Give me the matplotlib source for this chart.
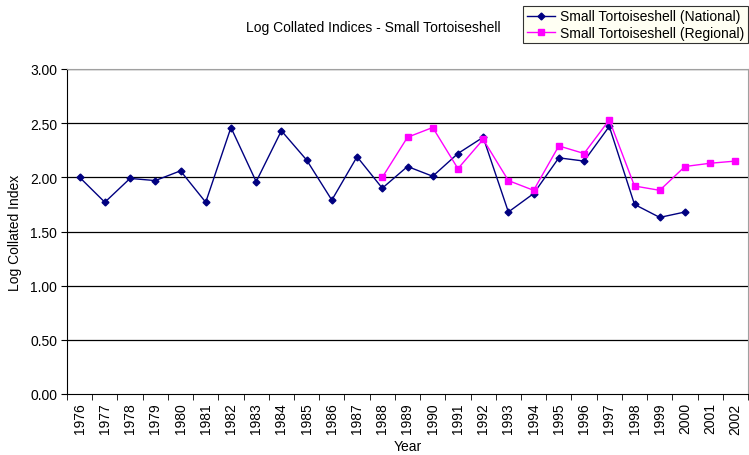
import matplotlib
matplotlib.use("Agg")
import matplotlib.pyplot as plt
import numpy as np

plt.rcParams['font.family'] = ['Liberation Sans', 'DejaVu Sans']

years = [str(y) for y in range(1976, 2003)]
national = [2.00, 1.77, 1.99, 1.97, 2.06, 1.77, 2.46, 1.96, 2.43, 2.16, 1.79, 2.19, 1.90,
            2.10, 2.01, 2.22, 2.37, 1.68, 1.85, 2.18, 2.15, 2.47, 1.75, 1.63, 1.68]
regional_years = [str(y) for y in range(1988, 2003)]
regional = [2.00, 2.37, 2.46, 2.08, 2.35, 1.97, 1.88, 2.29, 2.22, 2.53, 1.92, 1.88, 2.10, 2.13, 2.15]
yticks = [0.0, 0.5, 1.0, 1.5, 2.0, 2.5, 3.0]

fig = plt.figure(figsize=(7.49, 4.56), dpi=100)
ax = fig.add_axes([67/749, 61/456, 681/749, 325/456])

xn = np.arange(len(national))
xr = np.array([years.index(y) for y in regional_years])

ax.plot(xn, national, color='#000080', marker='D', markersize=3.5, linewidth=1,
        label='Small Tortoiseshell (National)')
ax.plot(xr, regional, color='#FF00FF', marker='s', markersize=4.5, linewidth=1,
        label='Small Tortoiseshell (Regional)')

ax.set_xlim(-0.5, len(years) - 0.5)
ax.set_ylim(0, 3)
ax.set_yticks(yticks)
ax.set_yticklabels([f"{v:.2f}" for v in yticks], fontsize=10)
ax.set_xticks(np.arange(len(years)))
ax.set_xticklabels(years, rotation=90, fontsize=10)
ax.tick_params(axis='x', which='major', length=0, pad=6)
ax.set_xticks(np.arange(len(years) + 1) - 0.5, minor=True)
ax.tick_params(axis='x', which='minor', length=4, direction='out', color='black')
ax.tick_params(axis='y', length=4, direction='out', color='black', pad=3)

for v in yticks[1:]:
    ax.axhline(v, color='black', linewidth=0.9, zorder=0)

ax.spines['top'].set_color('#a0a0a0')
ax.spines['right'].set_color('#a0a0a0')
ax.spines['left'].set_color('black')
ax.spines['bottom'].set_color('black')

ax.set_ylabel('Log Collated Index', fontsize=10, labelpad=6)
ax.set_xlabel('Year', fontsize=10, labelpad=4)

fig.text(373/749, 1 - 28/456, 'Log Collated Indices - Small Tortoiseshell', fontsize=10,
         ha='center', va='center')

leg = fig.legend(loc='upper right', bbox_to_anchor=(748/749, 1 - 7/456), fontsize=10,
                 frameon=True, fancybox=False, edgecolor='black', borderpad=0.25,
                 handlelength=2.0, handletextpad=0.4, labelspacing=0.15, borderaxespad=0)
leg.get_frame().set_facecolor('#FFFFF0')
leg.get_frame().set_linewidth(0.8)

fig.savefig('out.png', dpi=100)
